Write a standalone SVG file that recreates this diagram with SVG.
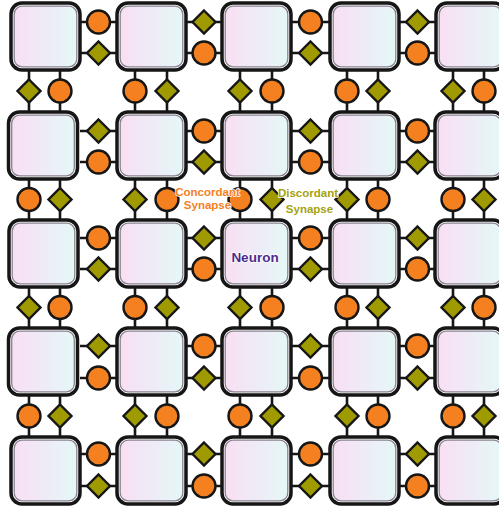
<svg xmlns="http://www.w3.org/2000/svg" width="499" height="507" viewBox="0 0 499 507">
<style>
.o{fill:#ffffff;stroke:#161616;stroke-width:3.5}
.i{fill:url(#g);stroke:#8a8290;stroke-width:1.3}
.ln{fill:none;stroke:#161616;stroke-width:2.6}
.cs{fill:#f4801f;stroke:#161616;stroke-width:2.4}
.ds{fill:#9f9a00;stroke:#161616;stroke-width:2.4}
.lb{font-family:"Liberation Sans",Arial,sans-serif;font-weight:bold;text-anchor:middle;paint-order:stroke;stroke:#fff;stroke-width:1.6;stroke-linejoin:round}
</style>
<defs>
<linearGradient id="g" x1="0" y1="0" x2="1" y2="0">
<stop offset="0" stop-color="#f9dff3"/>
<stop offset="0.5" stop-color="#eeebf6"/>
<stop offset="1" stop-color="#e5f8f7"/>
</linearGradient>
<circle id="c" class="cs" r="11.5"/>
<path id="d" class="ds" d="M0 -11.5L11.5 0L0 11.5L-11.5 0Z"/>
<g id="node">
<rect class="o" x="0" y="0" width="69" height="67" rx="11"/>
<rect class="i" x="3.2" y="3.2" width="62.6" height="60.6" rx="8"/>
</g>
</defs>
<g id="connectors">
<path class="ln" d="M80 22H117M80 53H117M186 22H222M186 53H222M291 22H330M291 53H330M399 22H436M399 53H436
M80 131H117M80 162H117M186 131H222M186 162H222M291 131H330M291 162H330M399 131H436M399 162H436
M80 238H117M80 269H117M186 238H222M186 269H222M291 238H330M291 269H330M399 238H436M399 269H436
M80 346H117M80 378H117M186 346H222M186 378H222M291 346H330M291 378H330M399 346H436M399 378H436
M80 454H117M80 486H117M186 454H222M186 486H222M291 454H330M291 486H330M399 454H436M399 486H436
M29 70V112M60 70V112M29 179V220M60 179V220M29 287V328M60 287V328M29 395V437M60 395V437
M135 70V112M167 70V112M135 179V220M167 179V220M135 287V328M167 287V328M135 395V437M167 395V437
M240 70V112M272 70V112M240 179V220M272 179V220M240 287V328M272 287V328M240 395V437M272 395V437
M347 70V112M378 70V112M347 179V220M378 179V220M347 287V328M378 287V328M347 395V437M378 395V437
M453 70V112M484 70V112M453 179V220M484 179V220M453 287V328M484 287V328M453 395V437M484 395V437"/>
</g>
<g id="nodes">
<g id="n00"><use href="#node" x="11" y="3"/></g>
<g id="n01"><use href="#node" x="117" y="3"/></g>
<g id="n02"><use href="#node" x="222" y="3"/></g>
<g id="n03"><use href="#node" x="330" y="3"/></g>
<g id="n04"><use href="#node" x="436" y="3"/></g>
<g id="n10"><use href="#node" x="8.5" y="112"/></g>
<g id="n11"><use href="#node" x="117" y="112"/></g>
<g id="n12"><use href="#node" x="222" y="112"/></g>
<g id="n13"><use href="#node" x="330" y="112"/></g>
<g id="n14"><use href="#node" x="435" y="112"/></g>
<g id="n20"><use href="#node" x="9" y="220"/></g>
<g id="n21"><use href="#node" x="117" y="220"/></g>
<g id="n22"><use href="#node" x="222" y="220"/><text class="lb" x="255" y="262" font-size="13.5" fill="#4d2a8c" stroke="none">Neuron</text></g>
<g id="n23"><use href="#node" x="330" y="220"/></g>
<g id="n24"><use href="#node" x="435" y="220"/></g>
<g id="n30"><use href="#node" x="8.5" y="328"/></g>
<g id="n31"><use href="#node" x="117" y="328"/></g>
<g id="n32"><use href="#node" x="222" y="328"/></g>
<g id="n33"><use href="#node" x="330" y="328"/></g>
<g id="n34"><use href="#node" x="435" y="328"/></g>
<g id="n40"><use href="#node" x="11" y="437"/></g>
<g id="n41"><use href="#node" x="117" y="437"/></g>
<g id="n42"><use href="#node" x="222" y="437"/></g>
<g id="n43"><use href="#node" x="330" y="437"/></g>
<g id="n44"><use href="#node" x="436" y="437"/></g>
</g>
<g id="synapses">
<use href="#c" x="98.5" y="22"/><use href="#d" x="98.5" y="53"/>
<use href="#d" x="204" y="22"/><use href="#c" x="204" y="53"/>
<use href="#c" x="310.5" y="22"/><use href="#d" x="310.5" y="53"/>
<use href="#d" x="417.5" y="22"/><use href="#c" x="417.5" y="53"/>
<use href="#d" x="98.5" y="131"/><use href="#c" x="98.5" y="162"/>
<use href="#c" x="204" y="131"/><use href="#d" x="204" y="162"/>
<use href="#d" x="310.5" y="131"/><use href="#c" x="310.5" y="162"/>
<use href="#c" x="417.5" y="131"/><use href="#d" x="417.5" y="162"/>
<use href="#c" x="98.5" y="238"/><use href="#d" x="98.5" y="269"/>
<use href="#d" x="204" y="238"/><use href="#c" x="204" y="269"/>
<use href="#c" x="310.5" y="238"/><use href="#d" x="310.5" y="269"/>
<use href="#d" x="417.5" y="238"/><use href="#c" x="417.5" y="269"/>
<use href="#d" x="98.5" y="346"/><use href="#c" x="98.5" y="378"/>
<use href="#c" x="204" y="346"/><use href="#d" x="204" y="378"/>
<use href="#d" x="310.5" y="346"/><use href="#c" x="310.5" y="378"/>
<use href="#c" x="417.5" y="346"/><use href="#d" x="417.5" y="378"/>
<use href="#c" x="98.5" y="454"/><use href="#d" x="98.5" y="486"/>
<use href="#d" x="204" y="454"/><use href="#c" x="204" y="486"/>
<use href="#c" x="310.5" y="454"/><use href="#d" x="310.5" y="486"/>
<use href="#d" x="417.5" y="454"/><use href="#c" x="417.5" y="486"/>
<use href="#d" x="29" y="91"/><use href="#c" x="60" y="91"/>
<use href="#c" x="135" y="91"/><use href="#d" x="167" y="91"/>
<use href="#d" x="240" y="91"/><use href="#c" x="272" y="91"/>
<use href="#c" x="347" y="91"/><use href="#d" x="378" y="91"/>
<use href="#d" x="453" y="91"/><use href="#c" x="484" y="91"/>
<use href="#c" x="29" y="199.5"/><use href="#d" x="60" y="199.5"/>
<use href="#d" x="135" y="199.5"/><use href="#c" x="167" y="199.5"/>
<use href="#c" x="240" y="199.5"/><use href="#d" x="272" y="199.5"/>
<use href="#d" x="347" y="199.5"/><use href="#c" x="378" y="199.5"/>
<use href="#c" x="453" y="199.5"/><use href="#d" x="484" y="199.5"/>
<use href="#d" x="29" y="307.5"/><use href="#c" x="60" y="307.5"/>
<use href="#c" x="135" y="307.5"/><use href="#d" x="167" y="307.5"/>
<use href="#d" x="240" y="307.5"/><use href="#c" x="272" y="307.5"/>
<use href="#c" x="347" y="307.5"/><use href="#d" x="378" y="307.5"/>
<use href="#d" x="453" y="307.5"/><use href="#c" x="484" y="307.5"/>
<use href="#c" x="29" y="416"/><use href="#d" x="60" y="416"/>
<use href="#d" x="135" y="416"/><use href="#c" x="167" y="416"/>
<use href="#c" x="240" y="416"/><use href="#d" x="272" y="416"/>
<use href="#d" x="347" y="416"/><use href="#c" x="378" y="416"/>
<use href="#c" x="453" y="416"/><use href="#d" x="484" y="416"/>
</g>
<g id="labels">
<text class="lb" font-size="11.5" fill="#f4801f"><tspan x="207.5" y="196">Concordant</tspan><tspan x="207.5" y="209">Synapse</tspan></text>
<text class="lb" font-size="11.5" fill="#a5a212"><tspan x="308" y="197">Discordant</tspan><tspan x="309.5" y="213">Synapse</tspan></text>
</g>
</svg>
